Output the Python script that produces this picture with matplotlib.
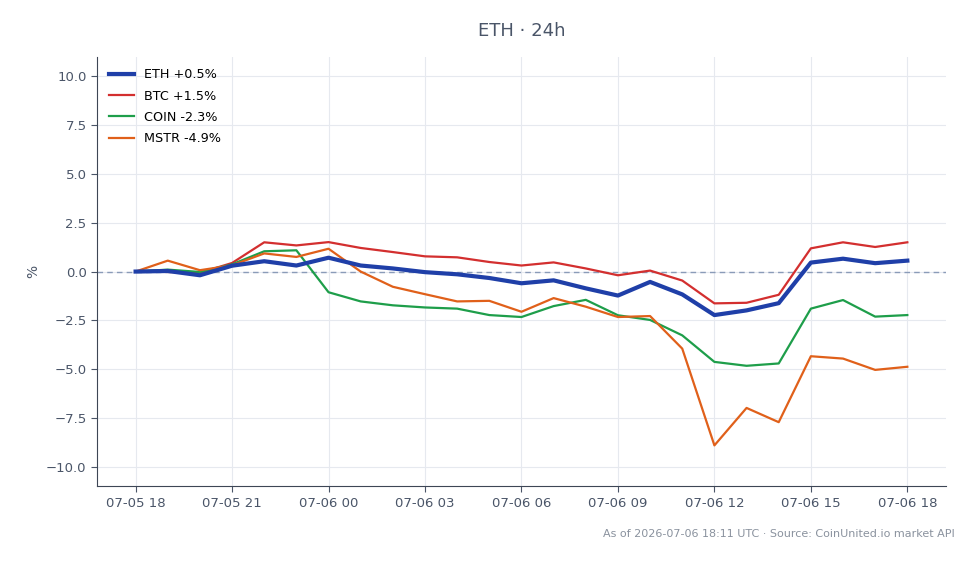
import matplotlib
matplotlib.use("Agg")
import matplotlib.pyplot as plt
import matplotlib.dates as mdates
import pandas as pd

times = pd.date_range("2026-07-05 18:00", "2026-07-06 18:00", freq="h")

eth = [0.0, 0.03, -0.19, 0.3, 0.53, 0.31, 0.71, 0.31, 0.16, -0.03, -0.14, -0.33, -0.6, -0.45,
       -0.86, -1.23, -0.53, -1.17, -2.23, -1.99, -1.62, 0.46, 0.66, 0.43, 0.56]
btc = [0.0, -0.02, -0.06, 0.44, 1.5, 1.34, 1.51, 1.21, 1.0, 0.78, 0.73, 0.49, 0.31, 0.47,
       0.16, -0.19, 0.05, -0.46, -1.63, -1.6, -1.19, 1.19, 1.5, 1.26, 1.5]
coin = [0.0, 0.1, -0.02, 0.37, 1.04, 1.09, -1.06, -1.53, -1.73, -1.84, -1.9, -2.23, -2.33, -1.77,
        -1.45, -2.24, -2.48, -3.27, -4.63, -4.83, -4.71, -1.9, -1.46, -2.31, -2.23]
mstr = [0.0, 0.56, 0.07, 0.32, 0.93, 0.75, 1.17, 0.0, -0.78, -1.16, -1.53, -1.5, -2.06, -1.36,
        -1.8, -2.33, -2.28, -3.95, -8.91, -6.99, -7.72, -4.34, -4.46, -5.04, -4.88]

labels = ["ETH +0.5%", "BTC +1.5%", "COIN -2.3%", "MSTR -4.9%"]
colors = ["#1f3fa8", "#d32f2f", "#1e9e4a", "#e0601a"]
widths = [3.0, 1.6, 1.6, 1.6]

fig = plt.figure(figsize=(9.78, 5.64), dpi=100)
ax = fig.add_axes([0.0992, 0.138, 0.868, 0.761])

text_col = "#4a5568"
ax.axhline(0, color="#8a9bb8", lw=1, ls=(0, (4, 3)), zorder=1)
for s, lab, c, w in zip([eth, btc, coin, mstr], labels, colors, widths):
    ax.plot(times, s, color=c, lw=w, label=lab, zorder=3 if lab.startswith("ETH") else 2)

ax.set_ylim(-11, 11)
ax.set_yticks([-10, -7.5, -5, -2.5, 0, 2.5, 5, 7.5, 10])
ax.xaxis.set_major_locator(mdates.HourLocator(byhour=range(0, 24, 3)))
ax.xaxis.set_major_formatter(mdates.DateFormatter("%m-%d %H"))
ax.grid(True, color="#e6e9ef", lw=0.8)
ax.set_axisbelow(True)
for sp in ["top", "right"]:
    ax.spines[sp].set_visible(False)
for sp in ["left", "bottom"]:
    ax.spines[sp].set_color("#3d4655")
ax.tick_params(colors=text_col, labelsize=9.5, length=4)
ax.set_ylabel("%", color=text_col, fontsize=10)
ax.set_title("ETH · 24h", color=text_col, fontsize=13, pad=15)
leg = ax.legend(loc="upper left", frameon=False, fontsize=9.2, handlelength=2.0,
                labelspacing=0.64, borderaxespad=0.5, handletextpad=0.8)
fig.text(0.976, 0.054, "As of 2026-07-06 18:11 UTC · Source: CoinUnited.io market API",
         ha="right", va="center", fontsize=8, color="#8a929e")

fig.savefig("out.png", dpi=100)
